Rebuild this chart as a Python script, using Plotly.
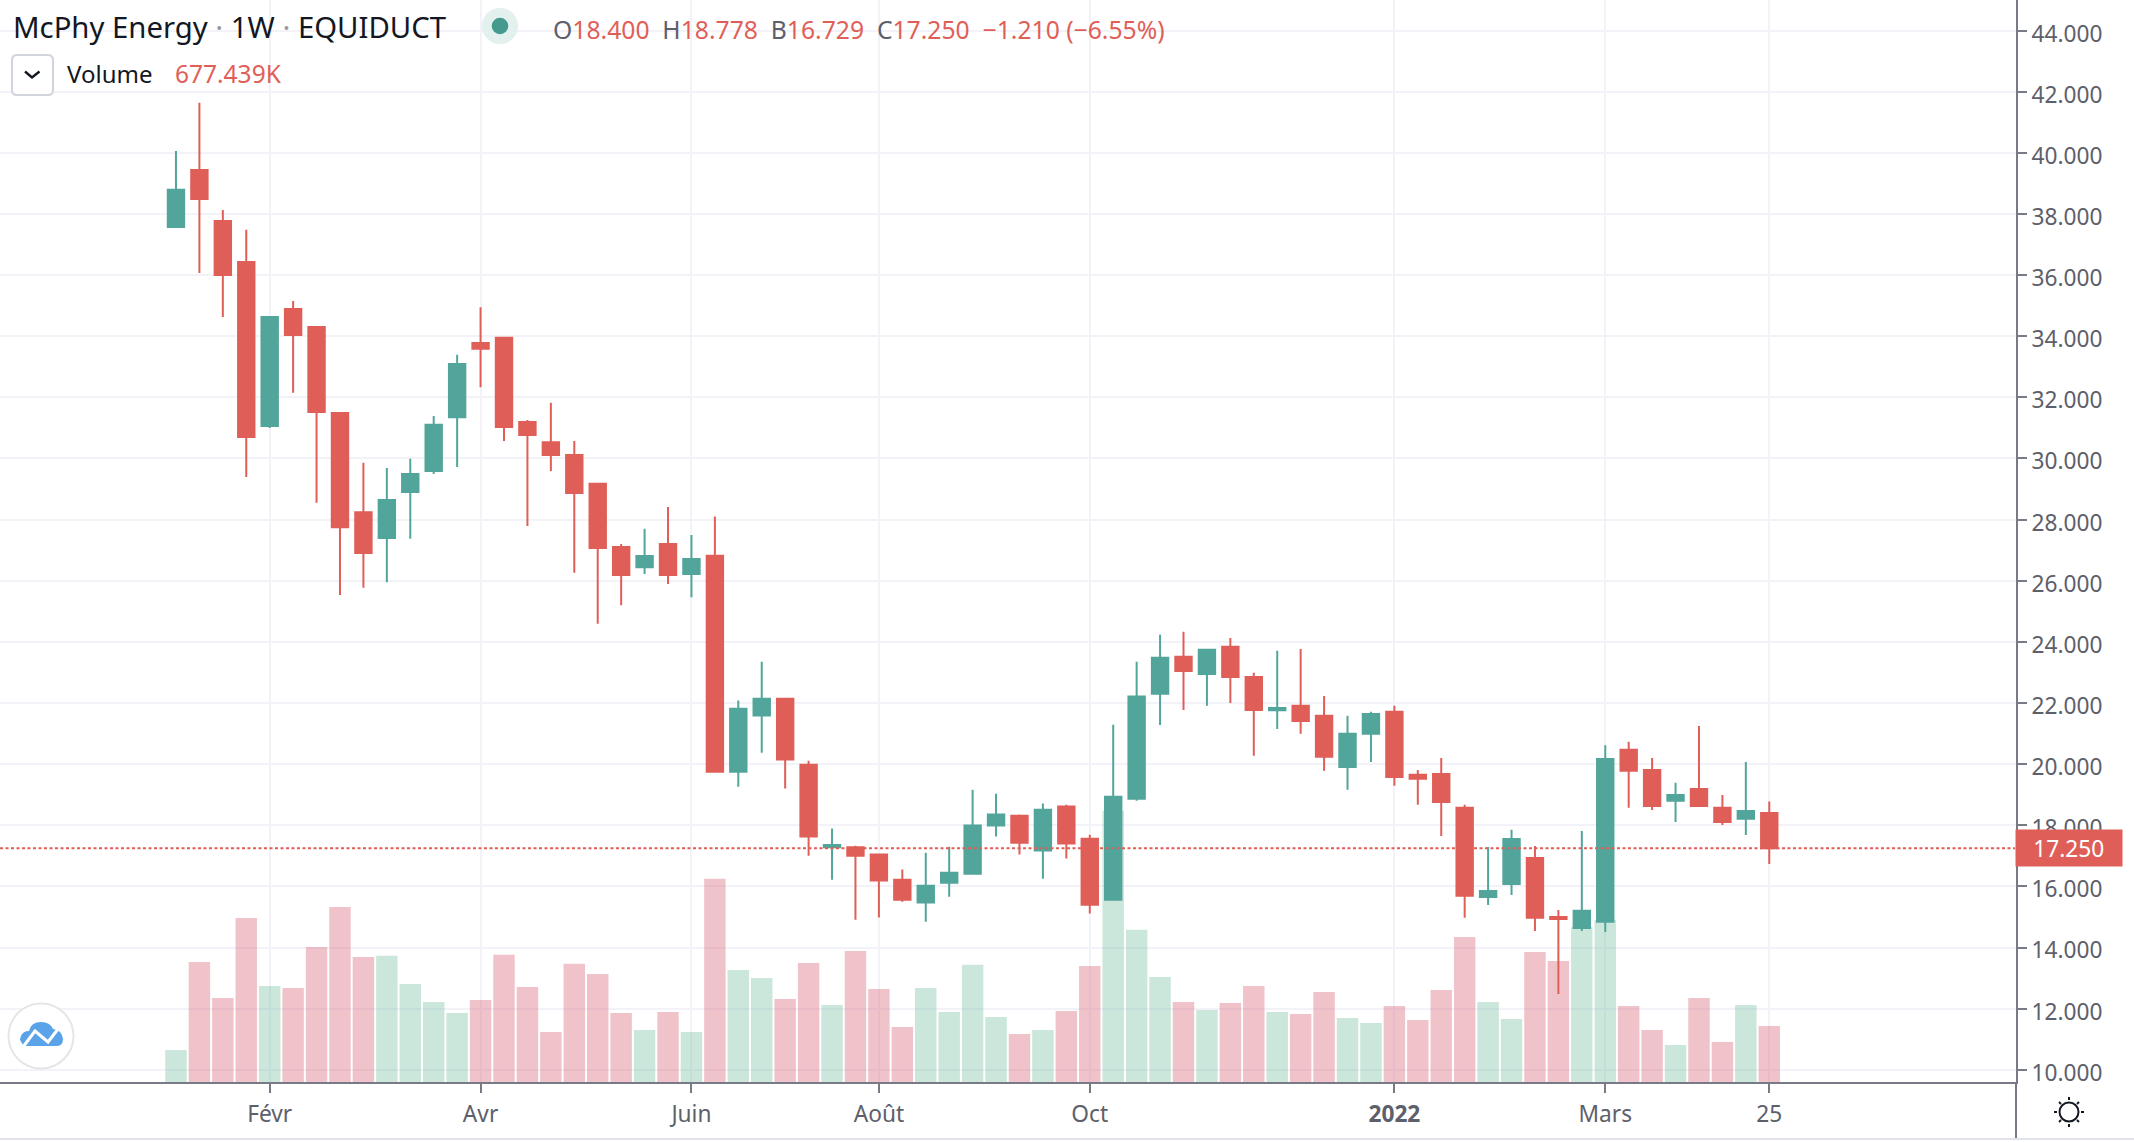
import pandas as pd
import plotly.graph_objects as go

opens = [37.57,39.44,37.77,36.43,31.06,34.89,34.30,31.49,28.24,27.40,28.90,29.59,31.35,33.78,33.95,31.19,30.53,30.11,29.17,27.10,
         26.44,27.20,26.22,26.82,19.75,21.59,22.14,19.98,17.28,17.28,17.04,16.22,15.47,16.12,16.41,17.99,18.31,17.17,18.61,17.56,
         15.56,18.87,22.30,23.51,22.95,23.84,22.85,21.76,21.91,21.58,19.91,20.99,21.71,19.65,19.68,18.57,15.65,16.08,16.93,15.00,
         14.64,14.84,20.47,19.81,18.80,19.19,18.57,18.21,18.40]
closes = [38.79,38.49,36.00,30.70,34.63,34.04,31.52,27.75,26.91,28.64,29.49,31.10,33.09,33.59,31.03,30.77,30.11,28.87,27.07,26.19,
          26.81,26.19,26.71,19.75,21.81,22.14,20.15,17.63,17.35,17.00,16.19,15.56,16.02,16.45,17.99,18.35,17.43,18.51,17.40,15.40,
          18.93,22.21,23.48,23.05,23.74,22.85,21.77,21.84,21.41,20.24,20.99,21.64,19.58,19.52,18.76,15.69,15.85,17.55,14.97,14.93,
          15.20,20.17,19.78,18.63,18.99,18.63,18.11,18.47,17.25]
highs = [40.06,41.64,38.13,37.48,34.63,35.15,34.33,31.49,29.86,29.69,29.99,31.39,33.39,34.95,33.95,31.26,31.82,30.57,29.17,27.20,
         27.70,28.41,27.50,28.10,22.08,23.35,22.14,20.11,17.89,17.33,17.04,16.55,17.10,17.30,19.16,19.03,18.35,18.71,18.67,17.69,
         21.29,23.35,24.23,24.33,23.74,24.13,22.99,23.71,23.77,22.23,21.58,21.71,21.91,19.81,20.20,18.67,17.29,17.85,17.32,15.23,
         17.81,20.62,20.73,20.20,19.39,21.25,18.99,20.07,18.778]
lows = [37.57,36.07,34.63,29.39,31.00,32.15,28.55,25.53,25.77,25.95,27.37,29.49,29.72,32.33,30.57,27.79,29.59,26.26,24.59,25.20,
        26.22,25.89,25.46,19.72,19.26,20.37,19.20,17.00,16.22,14.91,14.98,15.50,14.84,15.66,16.41,17.63,17.04,16.25,16.91,15.11,
        15.56,18.80,21.28,21.77,21.91,22.00,20.27,21.15,20.99,19.78,19.16,20.07,19.29,18.67,17.65,14.97,15.39,15.72,14.54,12.48,
        14.54,14.51,18.57,18.50,18.11,18.63,18.01,17.68,16.729]
volumes_k = [387,1452,1016,1984,1162,1137,1633,2117,1512,1525,1186,968,835,992,1537,1149,605,1428,1307,835,
             629,847,605,2456,1355,1258,1004,1440,932,1585,1125,665,1137,847,1416,786,581,629,859,1403,
             3279,1839,1270,968,871,956,1162,847,823,1089,774,714,920,750,1113,1754,968,762,1573,1464,
             1875,1960,920,629,448,1016,484,932,677.439]
tick_dates = ["2021-02-01","2021-04-05","2021-06-07","2021-08-02","2021-10-04","2022-01-03","2022-03-07","2022-04-25"]
tick_labels = ["Févr","Avr","Juin","Août","Oct","<b>2022</b>","Mars","25"]
price_ticks = list(range(10, 46, 2))
last_price = 17.25

W, H = 2134, 1142
PLOT_R, PLOT_B = 2016, 1082
RED, TEAL = "#DF5F58", "#52A59A"
AXIS = "#787B86"; GRID = "#F2F2F8"; TEXT = "#5D606B"; DARK = "#131722"
FONT = "Noto Sans"
TICK_SIZE = 22.7

dates = pd.date_range("2021-01-04", periods=len(opens), freq="7D")
week = pd.Timedelta(days=7)
bar_colors = ["rgba(125,192,162,0.4)" if c >= o else "rgba(218,105,122,0.4)" for o, c in zip(opens, closes)]

def px(x, y):
    return x / PLOT_R, 1 - y / PLOT_B

def path(cmds):
    out = []
    for c in cmds:
        letter, pts = c[0], c[1:]
        coords = " ".join("%.6f,%.6f" % px(*p) for p in pts)
        out.append(letter + coords)
    return " ".join(out) + ""

def pshape(cmds, close=False, **kw):
    return dict(type="path", xref="paper", yref="paper", layer="above",
                path=path(cmds) + (" Z" if close else ""), **kw)

def circle(cx, cy, r, **kw):
    x0, y0 = px(cx - r, cy - r); x1, y1 = px(cx + r, cy + r)
    return dict(type="circle", xref="paper", yref="paper", layer="above", x0=x0, y0=y0, x1=x1, y1=y1, **kw)

def seg(x0, y0, x1, y1, color, width, dash=None):
    a, b = px(x0, y0), px(x1, y1)
    return dict(type="line", xref="paper", yref="paper", layer="above", x0=a[0], y0=a[1], x1=b[0], y1=b[1],
                line=dict(color=color, width=width, dash=dash))

def label(x, y, text, size, color=DARK, anchor="left", family=FONT, **kw):
    xp, yp = px(x, y)
    return dict(xref="paper", yref="paper", x=xp, y=yp, xanchor=anchor, yanchor="middle", text=text, showarrow=False,
                font=dict(family=family, size=size, color=color), borderpad=0, **kw)

fig = go.Figure()
fig.add_trace(go.Bar(x=dates, y=volumes_k, yaxis="y", marker=dict(color=bar_colors, line=dict(width=0)),
                     width=0.915 * week.total_seconds() * 1000, showlegend=False, hoverinfo="skip"))
fig.add_trace(go.Candlestick(x=dates, open=opens, high=highs, low=lows, close=closes, yaxis="y2", whiskerwidth=0,
                             increasing=dict(line=dict(color=TEAL, width=2), fillcolor=TEAL),
                             decreasing=dict(line=dict(color=RED, width=2), fillcolor=RED),
                             showlegend=False, hoverinfo="skip"))

shapes = [
    dict(type="line", xref="paper", yref="y2", layer="above", x0=0, x1=1, y0=last_price, y1=last_price,
         line=dict(color=RED, width=2, dash="3px,2.5px")),
    seg(PLOT_R, 1082, PLOT_R, 1138, AXIS, 2),
    seg(0, 1139, W, 1139, "#E0E3EB", 2),
    seg(PLOT_R - 1, 848, PLOT_R + 8, 848, "#FFFFFF", 2),
    # legend: status dot
    circle(500, 26, 18, fillcolor="#E2F0EE", line=dict(width=0)),
    circle(500, 26, 8.3, fillcolor="#439A8D", line=dict(width=0)),
    # legend: collapse button
    pshape([("M", (17, 55)), ("L", (48, 55)), ("Q", (53, 55), (53, 60)), ("L", (53, 90)), ("Q", (53, 95), (48, 95)),
            ("L", (17, 95)), ("Q", (12, 95), (12, 90)), ("L", (12, 60)), ("Q", (12, 55), (17, 55))],
           close=True, fillcolor="#FFFFFF", line=dict(color="#D1D4DC", width=2)),
    pshape([("M", (25, 71.5)), ("L", (32, 77.5)), ("L", (39.5, 71.5))], line=dict(color=DARK, width=2.4)),
    # watermark logo
    circle(41, 1036, 32.5, fillcolor="#FFFFFF", line=dict(color="#E6E6E6", width=2)),
    pshape([("M", (25, 1046)), ("Q", (18, 1041), (21, 1036)), ("Q", (23, 1031), (29, 1031)),
            ("Q", (31, 1022), (41, 1022)), ("Q", (50, 1022), (53, 1029)), ("Q", (62, 1030), (63, 1039)),
            ("Q", (63, 1046), (57, 1046))], close=True, fillcolor="#5AA3E8", line=dict(width=0)),
    pshape([("M", (23, 1047)), ("L", (35, 1031)), ("L", (48, 1042)), ("L", (58, 1029))],
           line=dict(color="#FFFFFF", width=3)),
    # theme button
    circle(2069, 1112, 9.5, fillcolor="#FFFFFF", line=dict(color=DARK, width=2)),
]
for x0, y0, x1, y1 in [(2069, 1097, 2069, 1100), (2069, 1124, 2069, 1127), (2054, 1112, 2057, 1112), (2081, 1112, 2084, 1112),
                       (2059, 1102, 2061, 1104), (2077, 1120, 2079, 1122), (2059, 1122, 2061, 1120), (2077, 1104, 2079, 1102)]:
    shapes.append(seg(x0, y0, x1, y1, DARK, 2))

G = '<span style="color:%s">' % TEXT
R = '<span style="color:%s">' % RED
D = '<span style="color:#9598A1"> · </span>'
annotations = [
    label(12, 27, "McPhy Energy" + D + "1W" + D + "EQUIDUCT", 29.3),
    label(552, 29, "".join([G + "O</span>", R + "18.400</span>  ", G + "H</span>", R + "18.778</span>  ",
                            G + "B</span>", R + "16.729</span>  ", G + "C</span>", R + "17.250  −1.210 (−6.55%)</span>"]), 24.7),
    label(66, 74, "Volume", 24),
    label(174, 74, "677.439K", 24.5, color=RED),
    label(2015, 848, "17.250", TICK_SIZE, color="#FFFFFF", bgcolor=RED, width=105.5, height=36, align="center"),
]

fig.update_layout(
    width=W, height=H, margin=dict(l=0, r=W - PLOT_R, t=0, b=H - PLOT_B),
    paper_bgcolor="#FFFFFF", plot_bgcolor="#FFFFFF", showlegend=False, hovermode=False,
    boxgap=0.3, boxgroupgap=0, dragmode=False,
    font=dict(family=FONT, size=TICK_SIZE, color=TEXT),
    xaxis=dict(type="date", range=[dates[0] - 7.51 * week, dates[0] + 78.53 * week], rangeslider=dict(visible=False),
               tickmode="array", tickvals=tick_dates, ticktext=tick_labels, tickangle=0,
               showgrid=True, gridcolor=GRID, gridwidth=2, zeroline=False,
               showline=True, linecolor=AXIS, linewidth=2, ticks="outside", ticklen=9, tickwidth=2, tickcolor=AXIS,
               ticklabelstandoff=2,
               tickfont=dict(family=FONT, size=TICK_SIZE, color=TEXT)),
    yaxis=dict(range=[0, 13080], visible=False, fixedrange=True),
    yaxis2=dict(overlaying="y", side="right", range=[9.6, 45.0], tickmode="array", tickvals=price_ticks,
                ticktext=["%.3f" % v for v in price_ticks], showgrid=True, gridcolor=GRID, gridwidth=2, zeroline=False,
                showline=True, linecolor=AXIS, linewidth=2, ticks="outside", ticklen=9, tickwidth=2, tickcolor=AXIS,
                ticklabelshift=3,
                tickfont=dict(family=FONT, size=TICK_SIZE, color=TEXT), anchor="x"),
    shapes=shapes, annotations=annotations,
)
fig.write_html("out.html", config=dict(displayModeBar=False),
               post_script="document.body.style.margin='0';document.documentElement.style.overflow='hidden';")
